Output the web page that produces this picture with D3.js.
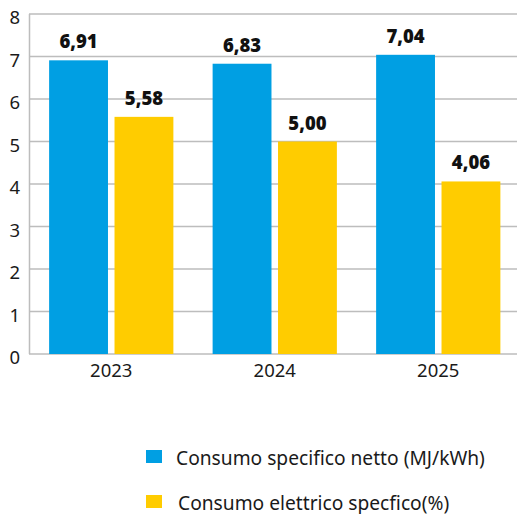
<!DOCTYPE html>
<html>
<head>
<meta charset="utf-8">
<script src="https://cdn.jsdelivr.net/npm/d3@7"></script>
<style>
  body { margin: 0; background: #fff; }
  svg { display: block; font-family: "Noto Sans", sans-serif; }
</style>
</head>
<body>
<svg width="517" height="514"></svg>
<script>
// data
var years = ["2023", "2024", "2025"];
var seriesNames = ["Consumo specifico netto (MJ/kWh)", "Consumo elettrico specfico(%)"];
var netto = [6.91, 6.83, 7.04];
var elettrico = [5.58, 5.00, 4.06];
var yTicks = [0, 1, 2, 3, 4, 5, 6, 7, 8];
var colours = ["#009fe3", "#ffcc00"];

var svg = d3.select("svg"),
    width = +svg.attr("width"),
    height = +svg.attr("height");

var rows = years.map((y, i) => ({ year: y, values: [netto[i], elettrico[i]] }));

var x = d3.scaleBand()
    .domain(years)
    .range([29.5, 520])
    .paddingInner(0.24)
    .paddingOuter(0.12);

var xSub = d3.scaleBand()
    .domain([0, 1])
    .range([0, x.bandwidth()])
    .paddingInner(0.1);

var y = d3.scaleLinear()
    .domain([0, 8])
    .range([354, 14]);

// gridlines
svg.append("g")
  .selectAll("line")
  .data(yTicks)
  .enter()
  .append("line")
    .attr("x1", 29)
    .attr("x2", width)
    .attr("y1", d => y(d))
    .attr("y2", d => y(d))
    .style("stroke", "#bdbdbd")
    .style("stroke-width", 1.5);

// left axis line
svg.append("line")
    .attr("x1", 29.5).attr("x2", 29.5)
    .attr("y1", y(8)).attr("y2", y(0))
    .style("stroke", "#bdbdbd")
    .style("stroke-width", 1.5);

// y tick labels
svg.append("g")
  .selectAll("text")
  .data(yTicks)
  .enter()
  .append("text")
    .attr("x", 20)
    .attr("y", d => y(d) + 10)
    .attr("text-anchor", "end")
    .style("font-size", "18.5px")
    .style("fill", "#1a1a1a")
    .text(d => d);

// bars
var groups = svg.append("g")
  .selectAll("g")
  .data(rows)
  .enter()
  .append("g")
    .attr("transform", d => "translate(" + x(d.year) + ",0)");

groups.selectAll("rect")
  .data(d => d.values)
  .enter()
  .append("rect")
    .attr("x", (d, i) => xSub(i))
    .attr("width", xSub.bandwidth())
    .attr("y", d => y(d))
    .attr("height", d => y(0) - y(d))
    .style("fill", (d, i) => colours[i]);

groups.selectAll("text")
  .data(d => d.values)
  .enter()
  .append("text")
    .attr("x", (d, i) => xSub(i) + xSub.bandwidth() / 2)
    .attr("y", d => y(d) - 12)
    .attr("text-anchor", "middle")
    .style("font-size", "18.5px")
    .style("font-weight", "900")
    .style("fill", "#111")
    .text(d => d.toFixed(2).replace(".", ","));

// x labels
svg.append("g")
  .selectAll("text")
  .data(years)
  .enter()
  .append("text")
    .attr("x", d => x(d) + x.bandwidth() / 2)
    .attr("y", 377)
    .attr("text-anchor", "middle")
    .style("font-size", "18.5px")
    .style("fill", "#1a1a1a")
    .text(d => d);

// legend
var legend = svg.append("g")
  .selectAll("g")
  .data(seriesNames)
  .enter()
  .append("g")
    .attr("transform", (d, i) => "translate(146," + (450 + i * 45) + ")");

legend.append("rect")
    .attr("width", 16)
    .attr("height", 13)
    .style("fill", (d, i) => colours[i]);

legend.append("text")
    .attr("x", (d, i) => i == 0 ? 30 : 32)
    .attr("y", 14.5)
    .style("font-size", "19.2px")
    .style("fill", "#1a1a1a")
    .text(d => d);
</script>
</body>
</html>
